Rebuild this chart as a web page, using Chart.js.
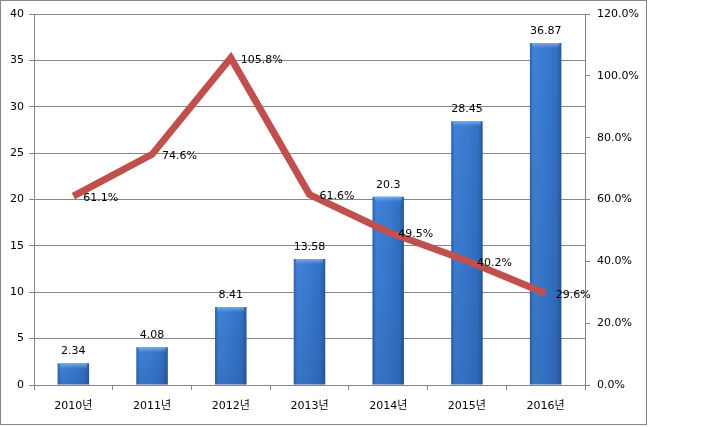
<!DOCTYPE html>
<html>
<head>
<meta charset="utf-8">
<script src="https://cdn.jsdelivr.net/npm/chart.js@4"></script>
<style>
  html, body { margin: 0; padding: 0; background: #fff; }
  #wrap { width: 706px; height: 427px; position: relative; }
</style>
</head>
<body>
<div id="wrap"><canvas id="chart" width="706" height="427"></canvas></div>
<script>
const years = ['2010년', '2011년', '2012년', '2013년', '2014년', '2015년', '2016년'];
const sales = [2.34, 4.08, 8.41, 13.58, 20.3, 28.45, 36.87];
const growth = [61.1, 74.6, 105.8, 61.6, 49.5, 40.2, 29.6];

const FONT = '"DejaVu Sans", "Noto Sans CJK KR", sans-serif';
const GRID = '#868686';

// bars get a left-to-right gradient so they look like the excel bevel
const barShade = {
  id: 'barShade',
  beforeDatasetDraw(chart, args) {
    if (args.index !== 1) return;
    const ctx = chart.ctx;
    args.meta.data.forEach(el => {
      const left = el.x - el.width / 2;
      const g = ctx.createLinearGradient(left, 0, left + el.width, 0);
      g.addColorStop(0, '#2d63ad');
      g.addColorStop(0.12, '#3f82d8');
      g.addColorStop(0.5, '#3a7bd2');
      g.addColorStop(0.85, '#3370c2');
      g.addColorStop(1, '#28589e');
      el.options = Object.assign({}, el.options, { backgroundColor: g });
    });
  },
  afterDatasetDraw(chart, args) {
    if (args.index !== 1) return;
    const ctx = chart.ctx;
    ctx.save();
    args.meta.data.forEach(el => {
      const left = el.x - el.width / 2;
      // light top edge
      const g = ctx.createLinearGradient(0, el.y, 0, el.y + 5);
      g.addColorStop(0, 'rgba(120,175,240,0.9)');
      g.addColorStop(1, 'rgba(120,175,240,0)');
      ctx.fillStyle = g;
      ctx.fillRect(left + 2, el.y, el.width - 4, 5);
      // slightly darker towards the base
      const b = ctx.createLinearGradient(0, el.y, 0, el.base);
      b.addColorStop(0, 'rgba(20,50,100,0)');
      b.addColorStop(1, 'rgba(20,50,100,0.18)');
      ctx.fillStyle = b;
      ctx.fillRect(left, el.y + 5, el.width, el.base - el.y - 5);
    });
    ctx.restore();
  }
};

const labels = {
  id: 'labels',
  afterDatasetsDraw(chart) {
    const ctx = chart.ctx;
    ctx.save();
    ctx.font = '11px ' + FONT;
    ctx.fillStyle = '#000';
    ctx.textBaseline = 'middle';
    chart.getDatasetMeta(1).data.forEach((el, i) => {
      ctx.textAlign = 'center';
      ctx.fillText(String(sales[i]), el.x, el.y - 12);
    });
    chart.getDatasetMeta(0).data.forEach((el, i) => {
      ctx.textAlign = 'left';
      ctx.fillText(growth[i].toFixed(1) + '%', el.x + 10, el.y + 2);
    });
    ctx.restore();
  }
};

const frame = {
  id: 'frame',
  afterDraw(chart) {
    const ctx = chart.ctx;
    ctx.save();
    ctx.strokeStyle = '#868686';
    ctx.lineWidth = 1;
    ctx.strokeRect(0.5, 0.5, 646, 424);
    ctx.restore();
  }
};

new Chart(document.getElementById('chart'), {
  data: {
    labels: years,
    datasets: [
      {
        type: 'line',
        data: growth,
        yAxisID: 'y1',
        borderColor: '#c0504d',
        borderWidth: 7,
        pointRadius: 0,
        tension: 0,
        order: 0
      },
      {
        type: 'bar',
        data: sales,
        yAxisID: 'y',
        backgroundColor: '#3a7bd2',
        barPercentage: 0.4,
        categoryPercentage: 1,
        order: 1
      }
    ]
  },
  options: {
    responsive: false,
    animation: false,
    layout: { padding: { top: 14, left: 0, right: 0, bottom: 0 } },
    plugins: { legend: { display: false }, tooltip: { enabled: false } },
    scales: {
      x: {
        offset: true,
        grid: { offset: true, drawOnChartArea: false, color: GRID, tickLength: 5 },
        border: { color: GRID },
        ticks: { color: '#000', font: { family: FONT, size: 11 }, padding: 10, maxRotation: 0 },
        afterFit(s) { s.height = 42; }
      },
      y: {
        position: 'left',
        min: 0, max: 40,
        ticks: { stepSize: 5, color: '#000', font: { family: FONT, size: 11 }, padding: 5 },
        grid: { color: GRID, tickLength: 5 },
        border: { color: GRID },
        afterFit(s) { s.width = 34; }
      },
      y1: {
        position: 'right',
        min: 0, max: 120,
        ticks: {
          stepSize: 20, color: '#000', font: { family: FONT, size: 11 }, padding: 7,
          callback: v => v.toFixed(1) + '%'
        },
        grid: { drawOnChartArea: false, color: GRID, tickLength: 5 },
        border: { color: GRID },
        afterFit(s) { s.width = 121; }
      }
    }
  },
  plugins: [barShade, labels, frame]
});
</script>
</body>
</html>
